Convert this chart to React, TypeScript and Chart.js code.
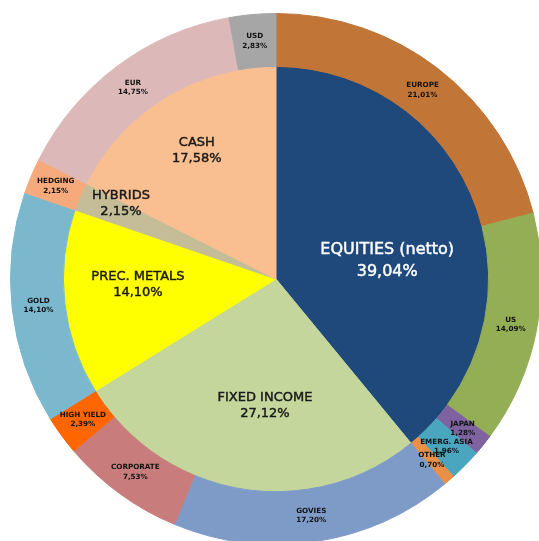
import React, { useEffect, useRef } from "react";
import { Chart, registerables } from "chart.js";

Chart.register(...registerables);

// ---- data ----
const innerLabels = ["EQUITIES (netto)", "FIXED INCOME", "PREC. METALS", "HYBRIDS", "CASH"];
const innerValues = [39.04, 27.12, 14.1, 2.15, 17.58];
const innerColors = ["#1F487B", "#C4D69C", "#FFFF00", "#C4BD98", "#F9BF90"];

const outerLabels = [
  "EUROPE",
  "US",
  "JAPAN",
  "EMERG. ASIA",
  "OTHER",
  "GOVIES",
  "CORPORATE",
  "HIGH YIELD",
  "GOLD",
  "HEDGING",
  "EUR",
  "USD",
];
const outerValues = [21.01, 14.09, 1.28, 1.96, 0.7, 17.2, 7.53, 2.39, 14.1, 2.15, 14.75, 2.83];
const outerColors = [
  "#C17536",
  "#93AE55",
  "#7F63A0",
  "#49A6BE",
  "#E98F47",
  "#7E9BC8",
  "#C87C7C",
  "#FF6600",
  "#7BB8CD",
  "#F6A97B",
  "#DDB8B8",
  "#A6A6A6",
];

// ---- label placement style (inner pie): radial fraction & angular nudge in degrees ----
const innerLabelRadius = [0.53, 0.6, 0.65, 0.81, 0.71];
const innerLabelNudge = [10.5, -4.4, 4, 3, 0];
const innerLabelColors = ["#FFFFFF", "#1A1A1A", "#1A1A1A", "#1A1A1A", "#1A1A1A"];

const fmt = (v: number) => v.toFixed(2).replace(".", ",") + "%";

const labelPlugin = {
  id: "sliceLabels",
  afterDatasetsDraw(chart: any) {
    const ctx = chart.ctx as CanvasRenderingContext2D;
    ctx.save();
    ctx.textAlign = "center";
    ctx.textBaseline = "middle";
    chart.data.datasets.forEach((ds: any, di: number) => {
      const meta = chart.getDatasetMeta(di);
      meta.data.forEach((arc: any, i: number) => {
        const p = arc.getProps(["x", "y", "startAngle", "endAngle", "innerRadius", "outerRadius"], true);
        let mid = (p.startAngle + p.endAngle) / 2;
        let r: number;
        let l1: string;
        let l2: string;
        let font: string;
        let lh: number;
        let stroke = 0;
        if (ds.ring === "outer") {
          r = (p.innerRadius + p.outerRadius) / 2;
          l1 = outerLabels[i];
          l2 = fmt(outerValues[i]);
          font = "bold 7.2px 'DejaVu Sans'";
          lh = 9.5;
          ctx.fillStyle = "#111111";
          ctx.strokeStyle = "#111111";
        } else {
          r = p.outerRadius * innerLabelRadius[i];
          mid += (innerLabelNudge[i] * Math.PI) / 180;
          l1 = innerLabels[i];
          l2 = fmt(innerValues[i]);
          if (i === 0) {
            font = "16px 'DejaVu Sans'";
            lh = 22;
          } else {
            font = "13px 'DejaVu Sans'";
            lh = 16;
          }
          stroke = 0.45;
          ctx.fillStyle = innerLabelColors[i];
          ctx.strokeStyle = innerLabelColors[i];
        }
        const x = p.x + r * Math.cos(mid);
        const y = p.y + r * Math.sin(mid);
        ctx.font = font;
        ctx.fillText(l1, x, y - lh / 2);
        ctx.fillText(l2, x, y + lh / 2);
        if (stroke > 0) {
          ctx.lineWidth = stroke;
          ctx.strokeText(l1, x, y - lh / 2);
          ctx.strokeText(l2, x, y + lh / 2);
        }
      });
    });
    ctx.restore();
  },
};

export default function App() {
  const ref = useRef<HTMLCanvasElement | null>(null);
  useEffect(() => {
    if (!ref.current) return;
    const chart = new Chart(ref.current, {
      type: "pie",
      data: {
        labels: outerLabels,
        datasets: [
          {
            ring: "outer",
            data: outerValues,
            backgroundColor: outerColors,
            borderColor: outerColors,
            borderWidth: 1,
            weight: 53,
          } as any,
          {
            ring: "inner",
            data: innerValues,
            backgroundColor: innerColors,
            borderColor: innerColors,
            borderWidth: 1,
            weight: 213,
          } as any,
        ],
      },
      options: {
        responsive: false,
        animation: false,
        layout: { padding: 10 },
        plugins: {
          legend: { display: false },
          tooltip: { enabled: false },
        },
      },
      plugins: [labelPlugin],
    });
    return () => chart.destroy();
  }, []);
  return (
    <div
      style={{
        position: "fixed",
        left: 0,
        top: 0,
        width: 539,
        height: 541,
        overflow: "hidden",
        background: "#ffffff",
      }}
    >
      <canvas ref={ref} width={552} height={558} style={{ display: "block", width: 552, height: 558 }} />
    </div>
  );
}
